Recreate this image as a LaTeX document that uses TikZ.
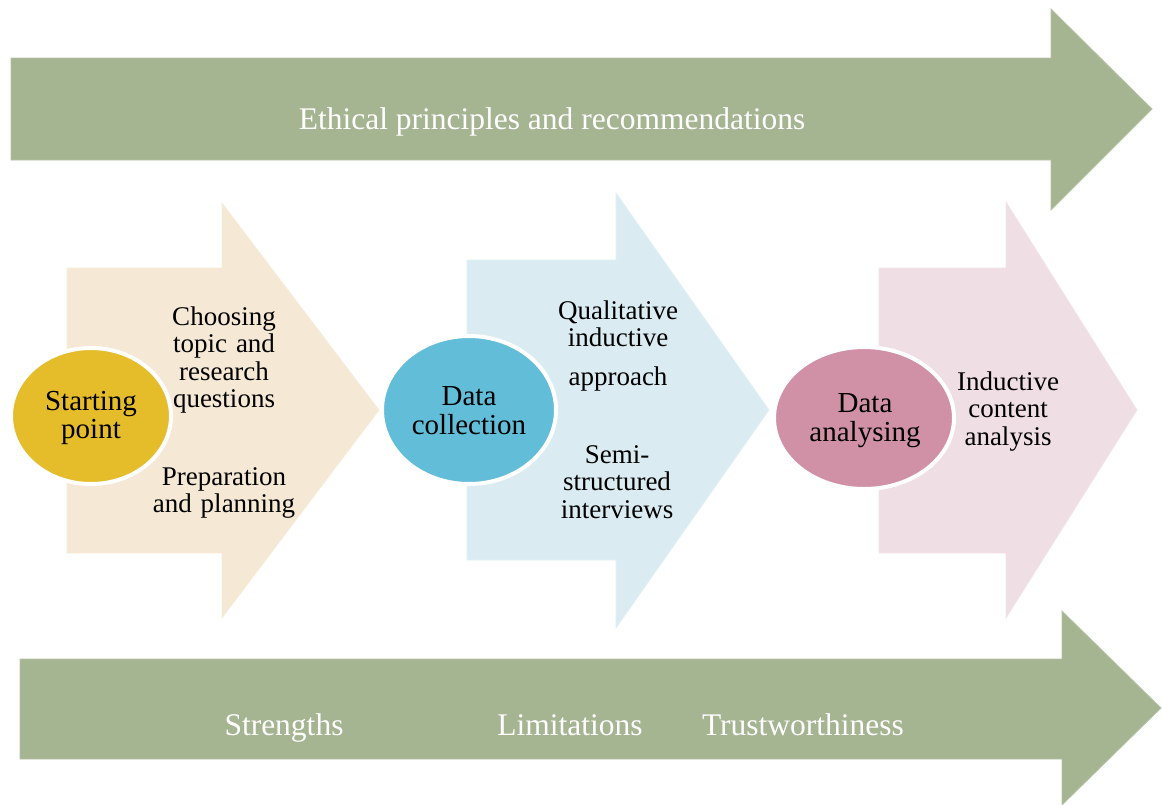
\documentclass[tikz,border=0pt]{standalone}
\usepackage{fontspec}
\setmainfont{Liberation Serif}
\begin{document}
\definecolor{sage}{RGB}{165,180,145}
\definecolor{sageedge}{RGB}{182,195,165}
\definecolor{beige}{RGB}{245,232,212}
\definecolor{beigeedge}{RGB}{248,238,222}
\definecolor{gold}{RGB}{229,188,42}
\definecolor{paleblue}{RGB}{218,236,242}
\definecolor{paleblueedge}{RGB}{226,241,246}
\definecolor{skyblue}{RGB}{98,189,216}
\definecolor{palepink}{RGB}{239,222,228}
\definecolor{palepinkedge}{RGB}{243,230,234}
\definecolor{rose}{RGB}{208,145,166}
\begin{tikzpicture}[x=1pt,y=-1pt,
  bandtext/.style={text=white,font=\fontsize{31.5}{33}\selectfont,anchor=base,inner sep=0pt},
  steptext/.style={text=black,font=\fontsize{27}{27.5}\selectfont,align=center,text width=220pt,anchor=base,inner sep=0pt},
  hubtext/.style={text=black,font=\fontsize{29}{29}\selectfont,align=center,text width=200pt,anchor=base,inner sep=0pt},
  hub/.style={draw=white,line width=4pt}]
\useasboundingbox (0,0) rectangle (1162,804);
\fill[white] (0,0) rectangle (1162,804);

% long green arrows
\filldraw[fill=sage,draw=sageedge,line width=0.8pt]
  (11,58) -- (1051,58) -- (1051,9) -- (1152,109) -- (1051,210) -- (1051,160) -- (11,160) -- cycle;
\filldraw[fill=sage,draw=sageedge,line width=0.8pt]
  (20,659) -- (1062,659) -- (1062,611) -- (1161,708) -- (1062,805) -- (1062,759) -- (20,759) -- cycle;

% stage arrows
\filldraw[fill=beige,draw=beigeedge,line width=0.8pt]
  (67,268) -- (222,268) -- (222,203) -- (379,410) -- (222,618) -- (222,553) -- (67,553) -- cycle;
\filldraw[fill=paleblue,draw=paleblueedge,line width=0.8pt]
  (467,260) -- (616,260) -- (616,193) -- (769,410) -- (616,628) -- (616,560) -- (467,560) -- cycle;
\filldraw[fill=palepink,draw=palepinkedge,line width=0.8pt]
  (879,268) -- (1006,268) -- (1006,202) -- (1137,410) -- (1006,618) -- (1006,553) -- (879,553) -- cycle;

% stage hubs
\filldraw[hub,fill=gold] (91,416) ellipse [x radius=80, y radius=68];
\filldraw[hub,fill=skyblue] (469,410) ellipse [x radius=87, y radius=74];
\filldraw[hub,fill=rose] (864,418) ellipse [x radius=90, y radius=71];

% labels on the green arrows
\node[bandtext] (ethics) at (552,129) {Ethical principles and recommendations};
\node[bandtext] (strengths) at (284,735) {Strengths};
\node[bandtext] (limits) at (570,735) {Limitations};
\node[bandtext] (trust) at (803,735) {Trustworthiness};

% hub labels
\node[hubtext] (start) at (91,410) {Starting\\[-0.5pt]point};
\node[hubtext] (collect) at (469,405) {Data\\[0.5pt]collection};
\node[hubtext] (analyse) at (865,412) {Data\\analysing};

% stage details
\node[steptext] (topic) at (224,325) {Choosing\\topic and\\research\\questions};
\node[steptext] (prep) at (224,485) {Preparation\\and planning};
\node[steptext] (qual) at (618,319) {Qualitative\\inductive\\[11.5pt]approach};
\node[steptext] (semi) at (617,463) {Semi-\\structured\\interviews};
\node[steptext] (content) at (1008,390) {Inductive\\content\\analysis};
\end{tikzpicture}
\end{document}
